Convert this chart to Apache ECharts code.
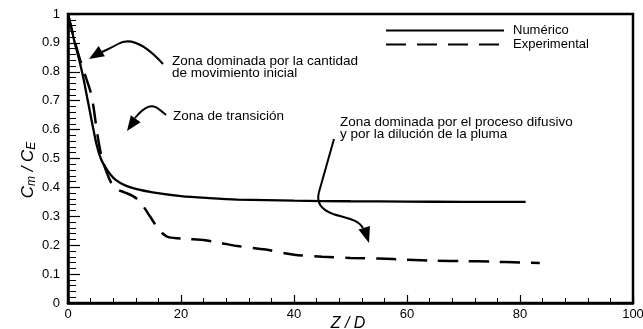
<!DOCTYPE html>
<html>
<head>
<meta charset="utf-8">
<script src="https://cdn.jsdelivr.net/npm/echarts@6/dist/echarts.min.js"></script>
<style>html,body{margin:0;padding:0;background:#fff}#c{width:643px;height:329px}</style>
</head>
<body>
<div id="c"></div>
<script>
// ---- data ----
const seriesNames = ['Numérico', 'Experimental'];
const numericoX = [0, 0.6, 1.2, 2, 2.7, 3.3, 3.9, 4.5, 5.1, 5.8, 6.6, 7.5, 8.5, 10, 12, 15, 20, 25, 30, 40, 50, 60, 70, 81];
const numericoY = [1, 0.95, 0.9, 0.84, 0.78, 0.72, 0.66, 0.6, 0.545, 0.5, 0.47, 0.445, 0.425, 0.408, 0.395, 0.383, 0.37, 0.363, 0.358, 0.354, 0.352, 0.351, 0.35, 0.35];
const experimentalX = [0, 1, 2, 3, 4, 4.5, 5, 5.4, 6, 6.6, 7.3, 8, 9, 10, 11.5, 12.8, 13.5, 14.5, 15.5, 16.5, 17.8, 21, 24, 27, 30, 35, 40, 45, 50, 55, 60, 65, 70, 75, 80, 83.5];
const experimentalY = [1, 0.92, 0.85, 0.79, 0.73, 0.68, 0.61, 0.56, 0.5, 0.465, 0.43, 0.405, 0.39, 0.383, 0.37, 0.35, 0.33, 0.3, 0.27, 0.245, 0.228, 0.222, 0.218, 0.208, 0.197, 0.185, 0.167, 0.16, 0.156, 0.154, 0.15, 0.146, 0.145, 0.143, 0.14, 0.138];
const xTicks = [0, 20, 40, 60, 80, 100];
const yTicks = [0, 0.1, 0.2, 0.3, 0.4, 0.5, 0.6, 0.7, 0.8, 0.9, 1];
const xTitle = 'Z / D';
const annotations = [
  ['Zona dominada por la cantidad', 'de movimiento inicial'],
  ['Zona de transición'],
  ['Zona dominada por el proceso difusivo', 'y por la dilución de la pluma']
];

const FONT = '"Liberation Sans", Arial, Helvetica, sans-serif';
const zip = (xs, ys) => xs.map((x, i) => [x, ys[i]]);
const STROKE = { fill: null, stroke: '#000', lineWidth: 2 };
const ANN_FONT = '13.5px ' + FONT;

function arrowHead(tipX, tipY, fromX, fromY, len, halfW) {
  const dx = tipX - fromX, dy = tipY - fromY;
  const d = Math.hypot(dx, dy);
  const ux = dx / d, uy = dy / d;
  const bx = tipX - ux * len, by = tipY - uy * len;
  return {
    type: 'polygon',
    shape: { points: [[tipX, tipY], [bx - uy * halfW, by + ux * halfW], [bx + uy * halfW, by - ux * halfW]] },
    style: { fill: '#000' }
  };
}
function bez(x1, y1, cx1, cy1, cx2, cy2, x2, y2) {
  return { type: 'bezierCurve', shape: { x1, y1, x2, y2, cpx1: cx1, cpy1: cy1, cpx2: cx2, cpy2: cy2 }, style: STROKE };
}

const chart = echarts.init(document.getElementById('c'), null, { renderer: 'canvas' });
chart.setOption({
  animation: false,
  backgroundColor: '#fff',
  textStyle: { fontFamily: FONT },
  grid: { left: 68, right: 10, top: 14, bottom: 26, containLabel: false, outerBoundsMode: 'none', show: true, borderColor: '#000', borderWidth: 2.5, backgroundColor: 'transparent' },
  legend: {
    orient: 'vertical', left: 380, top: 19, itemWidth: 118, itemHeight: 12, itemGap: 1,
    itemStyle: { opacity: 0 },
    textStyle: { fontFamily: FONT, fontSize: 13, color: '#000', padding: [0, 0, 0, 4] },
    data: seriesNames
  },
  xAxis: {
    type: 'value', min: xTicks[0], max: xTicks[xTicks.length - 1], interval: 20,
    axisLine: { lineStyle: { color: '#000', width: 2.5 } },
    axisTick: { inside: true, length: 8, lineStyle: { color: '#000', width: 1.2 } },
    minorTick: { show: true, splitNumber: 5, length: 5, lineStyle: { color: '#000', width: 1 } },
    axisLabel: { color: '#000', fontSize: 13, margin: 5, fontFamily: FONT },
    splitLine: { show: false }
  },
  yAxis: {
    type: 'value', min: yTicks[0], max: yTicks[yTicks.length - 1], interval: 0.1,
    axisLine: { lineStyle: { color: '#000', width: 2.5 } },
    axisTick: { inside: true, length: 12, lineStyle: { color: '#000', width: 1.2 } },
    minorTick: { show: true, splitNumber: 5, length: 8, lineStyle: { color: '#000', width: 1 } },
    axisLabel: { color: '#000', fontSize: 13, margin: 8, fontFamily: FONT },
    splitLine: { show: false }
  },
  series: [
    {
      name: seriesNames[0], type: 'line', showSymbol: false, symbol: 'none', smooth: 0.3,
      data: zip(numericoX, numericoY),
      lineStyle: { color: '#000', width: 2.3 }, itemStyle: { color: '#000' }
    },
    {
      name: seriesNames[1], type: 'line', showSymbol: false, symbol: 'none', smooth: 0.3,
      data: zip(experimentalX, experimentalY),
      lineStyle: { color: '#000', width: 2.5, type: [20, 11] }, itemStyle: { color: '#000' }
    }
  ],
  graphic: [
    {
      type: 'text', x: 28, y: 170, rotation: Math.PI / 2,
      style: {
        text: '{i|C}{s|m}{i| / C}{s|E}', align: 'center', verticalAlign: 'middle',
        rich: {
          i: { fontFamily: FONT, fontSize: 17, fontStyle: 'italic', fill: '#000', lineHeight: 20, verticalAlign: 'middle' },
          s: { fontFamily: FONT, fontSize: 12, fontStyle: 'italic', fill: '#000', lineHeight: 20, verticalAlign: 'bottom', padding: [6, 0, 0, 0] }
        }
      }
    },
    { type: 'text', x: 348, y: 316, style: { text: xTitle, font: 'italic 16px ' + FONT, fill: '#000', align: 'center', verticalAlign: 'top' } },
    { type: 'text', x: 172, y: 55, style: { text: annotations[0].join('\n'), font: ANN_FONT, fill: '#000', lineHeight: 12.5 } },
    { type: 'text', x: 173, y: 110, style: { text: annotations[1].join('\n'), font: ANN_FONT, fill: '#000', lineHeight: 12.5 } },
    { type: 'text', x: 340, y: 116, style: { text: annotations[2].join('\n'), font: ANN_FONT, fill: '#000', lineHeight: 12.5 } },
    bez(163, 64, 145, 44, 130, 37, 118, 44),
    bez(118, 44, 111, 48, 106, 50, 100, 53),
    arrowHead(89, 59, 102, 51, 15, 6),
    bez(166, 115, 160, 110, 155, 104, 148, 107),
    bez(148, 107, 143, 109, 139, 113, 135, 118),
    arrowHead(127, 131, 137, 117, 15, 6),
    { type: 'line', shape: { x1: 334, y1: 139, x2: 319, y2: 192 }, style: STROKE },
    bez(319, 192, 316, 203, 322, 210, 333, 214),
    bez(333, 214, 345, 218, 358, 219, 363, 228),
    arrowHead(369, 243, 364, 227, 16, 6)
  ]
});
</script>
</body>
</html>
